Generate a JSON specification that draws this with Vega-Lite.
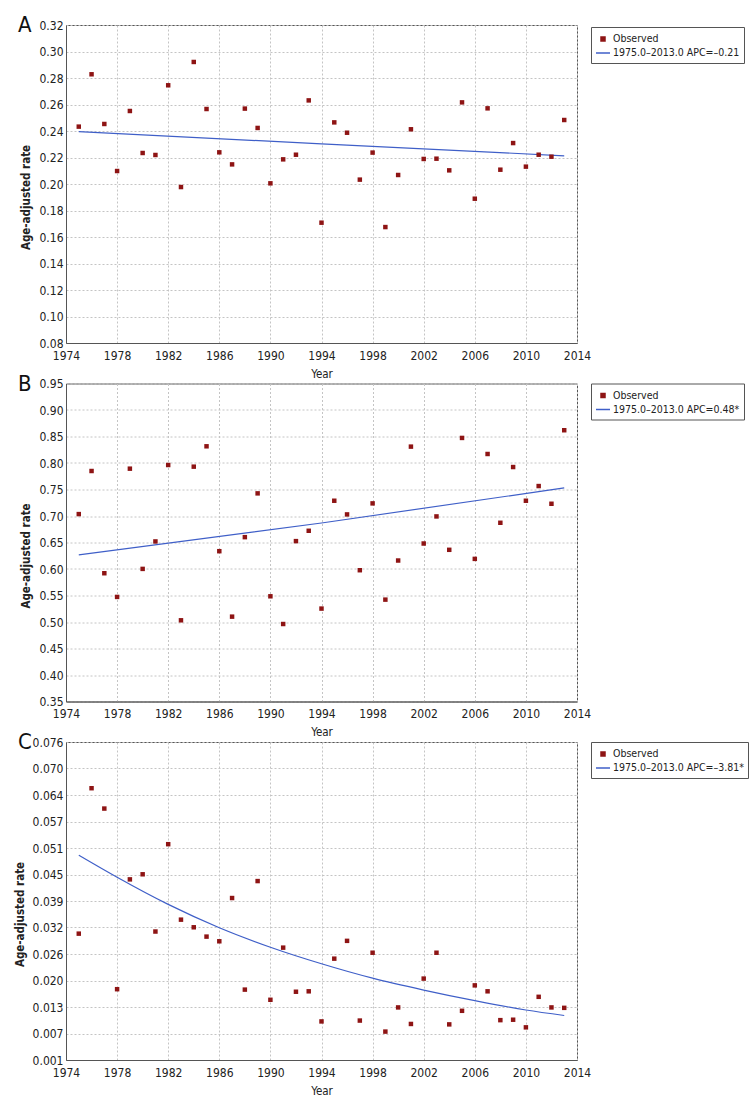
{
  "$schema": "https://vega.github.io/schema/vega-lite/v6.json",
  "background": "white",
  "padding": {"left": 13, "top": 13, "right": 5, "bottom": 5},
  "config": {
    "font": "DejaVu Sans Condensed, DejaVu Sans, sans-serif",
    "view": {"stroke": "#555", "strokeWidth": 1},
    "axis": {
      "labelFont": "DejaVu Sans Condensed, DejaVu Sans, sans-serif",
      "titleFont": "DejaVu Sans Condensed, DejaVu Sans, sans-serif",
      "labelFontSize": 12,
      "labelColor": "#222",
      "titleColor": "#222",
      "titleFontSize": 11.5,
      "titleFontWeight": "normal",
      "labelFlush": false,
      "labelOverlap": false,
      "ticks": false,
      "domainColor": "#555",
      "gridColor": "#c4c4c4",
      "gridDash": [2, 2],
      "gridWidth": 1
    },
    "legend": {
      "labelFont": "DejaVu Sans Condensed, DejaVu Sans, sans-serif",
      "labelFontSize": 10.5,
      "labelColor": "#222"
    },
    "title": {
      "font": "DejaVu Sans Condensed, DejaVu Sans, sans-serif",
      "fontSize": 22,
      "fontWeight": "normal",
      "color": "#111",
      "anchor": "start",
      "frame": "group",
      "offset": 0,
      "baseline": "alphabetic",
      "dx": -48,
      "dy": 22
    }
  },
  "datasets": {
    "A": [
      {"year": 1975, "rate": 0.2433, "series": "Observed"},
      {"year": 1976, "rate": 0.2828, "series": "Observed"},
      {"year": 1977, "rate": 0.2453, "series": "Observed"},
      {"year": 1978, "rate": 0.2098, "series": "Observed"},
      {"year": 1979, "rate": 0.2551, "series": "Observed"},
      {"year": 1980, "rate": 0.2234, "series": "Observed"},
      {"year": 1981, "rate": 0.2219, "series": "Observed"},
      {"year": 1982, "rate": 0.2745, "series": "Observed"},
      {"year": 1983, "rate": 0.1977, "series": "Observed"},
      {"year": 1984, "rate": 0.2921, "series": "Observed"},
      {"year": 1985, "rate": 0.2566, "series": "Observed"},
      {"year": 1986, "rate": 0.2239, "series": "Observed"},
      {"year": 1987, "rate": 0.2148, "series": "Observed"},
      {"year": 1988, "rate": 0.2569, "series": "Observed"},
      {"year": 1989, "rate": 0.2423, "series": "Observed"},
      {"year": 1990, "rate": 0.2005, "series": "Observed"},
      {"year": 1991, "rate": 0.2186, "series": "Observed"},
      {"year": 1992, "rate": 0.2221, "series": "Observed"},
      {"year": 1993, "rate": 0.2631, "series": "Observed"},
      {"year": 1994, "rate": 0.1708, "series": "Observed"},
      {"year": 1995, "rate": 0.2465, "series": "Observed"},
      {"year": 1996, "rate": 0.2387, "series": "Observed"},
      {"year": 1997, "rate": 0.2033, "series": "Observed"},
      {"year": 1998, "rate": 0.2237, "series": "Observed"},
      {"year": 1999, "rate": 0.1675, "series": "Observed"},
      {"year": 2000, "rate": 0.2068, "series": "Observed"},
      {"year": 2001, "rate": 0.2413, "series": "Observed"},
      {"year": 2002, "rate": 0.2189, "series": "Observed"},
      {"year": 2003, "rate": 0.2191, "series": "Observed"},
      {"year": 2004, "rate": 0.2103, "series": "Observed"},
      {"year": 2005, "rate": 0.2616, "series": "Observed"},
      {"year": 2006, "rate": 0.1889, "series": "Observed"},
      {"year": 2007, "rate": 0.2571, "series": "Observed"},
      {"year": 2008, "rate": 0.2108, "series": "Observed"},
      {"year": 2009, "rate": 0.2309, "series": "Observed"},
      {"year": 2010, "rate": 0.2131, "series": "Observed"},
      {"year": 2011, "rate": 0.2221, "series": "Observed"},
      {"year": 2012, "rate": 0.2206, "series": "Observed"},
      {"year": 2013, "rate": 0.2483, "series": "Observed"},
      {"year": 1975, "rate": 0.2395, "series": "1975.0–2013.0 APC=–0.21"},
      {"year": 1994, "rate": 0.2303, "series": "1975.0–2013.0 APC=–0.21"},
      {"year": 2013, "rate": 0.2213, "series": "1975.0–2013.0 APC=–0.21"}
    ],
    "B": [
      {"year": 1975, "rate": 0.7036, "series": "Observed"},
      {"year": 1976, "rate": 0.7849, "series": "Observed"},
      {"year": 1977, "rate": 0.592, "series": "Observed"},
      {"year": 1978, "rate": 0.5473, "series": "Observed"},
      {"year": 1979, "rate": 0.7893, "series": "Observed"},
      {"year": 1980, "rate": 0.6002, "series": "Observed"},
      {"year": 1981, "rate": 0.652, "series": "Observed"},
      {"year": 1982, "rate": 0.7962, "series": "Observed"},
      {"year": 1983, "rate": 0.5032, "series": "Observed"},
      {"year": 1984, "rate": 0.7931, "series": "Observed"},
      {"year": 1985, "rate": 0.8315, "series": "Observed"},
      {"year": 1986, "rate": 0.6336, "series": "Observed"},
      {"year": 1987, "rate": 0.5101, "series": "Observed"},
      {"year": 1988, "rate": 0.6601, "series": "Observed"},
      {"year": 1989, "rate": 0.7427, "series": "Observed"},
      {"year": 1990, "rate": 0.5485, "series": "Observed"},
      {"year": 1991, "rate": 0.4962, "series": "Observed"},
      {"year": 1992, "rate": 0.6526, "series": "Observed"},
      {"year": 1993, "rate": 0.6721, "series": "Observed"},
      {"year": 1994, "rate": 0.5253, "series": "Observed"},
      {"year": 1995, "rate": 0.7288, "series": "Observed"},
      {"year": 1996, "rate": 0.703, "series": "Observed"},
      {"year": 1997, "rate": 0.5977, "series": "Observed"},
      {"year": 1998, "rate": 0.7238, "series": "Observed"},
      {"year": 1999, "rate": 0.5422, "series": "Observed"},
      {"year": 2000, "rate": 0.616, "series": "Observed"},
      {"year": 2001, "rate": 0.8309, "series": "Observed"},
      {"year": 2002, "rate": 0.6481, "series": "Observed"},
      {"year": 2003, "rate": 0.6992, "series": "Observed"},
      {"year": 2004, "rate": 0.6362, "series": "Observed"},
      {"year": 2005, "rate": 0.8473, "series": "Observed"},
      {"year": 2006, "rate": 0.6191, "series": "Observed"},
      {"year": 2007, "rate": 0.817, "series": "Observed"},
      {"year": 2008, "rate": 0.6872, "series": "Observed"},
      {"year": 2009, "rate": 0.7924, "series": "Observed"},
      {"year": 2010, "rate": 0.7288, "series": "Observed"},
      {"year": 2011, "rate": 0.7565, "series": "Observed"},
      {"year": 2012, "rate": 0.7231, "series": "Observed"},
      {"year": 2013, "rate": 0.8618, "series": "Observed"},
      {"year": 1975, "rate": 0.6267, "series": "1975.0–2013.0 APC=0.48*"},
      {"year": 1994, "rate": 0.6868, "series": "1975.0–2013.0 APC=0.48*"},
      {"year": 2013, "rate": 0.7530, "series": "1975.0–2013.0 APC=0.48*"}
    ],
    "C": [
      {"year": 1975, "rate": 0.0308, "series": "Observed"},
      {"year": 1976, "rate": 0.0651, "series": "Observed"},
      {"year": 1977, "rate": 0.0603, "series": "Observed"},
      {"year": 1978, "rate": 0.0177, "series": "Observed"},
      {"year": 1979, "rate": 0.0436, "series": "Observed"},
      {"year": 1980, "rate": 0.0448, "series": "Observed"},
      {"year": 1981, "rate": 0.0313, "series": "Observed"},
      {"year": 1982, "rate": 0.0519, "series": "Observed"},
      {"year": 1983, "rate": 0.0341, "series": "Observed"},
      {"year": 1984, "rate": 0.0323, "series": "Observed"},
      {"year": 1985, "rate": 0.0301, "series": "Observed"},
      {"year": 1986, "rate": 0.029, "series": "Observed"},
      {"year": 1987, "rate": 0.0392, "series": "Observed"},
      {"year": 1988, "rate": 0.0176, "series": "Observed"},
      {"year": 1989, "rate": 0.0432, "series": "Observed"},
      {"year": 1990, "rate": 0.0152, "series": "Observed"},
      {"year": 1991, "rate": 0.0275, "series": "Observed"},
      {"year": 1992, "rate": 0.0171, "series": "Observed"},
      {"year": 1993, "rate": 0.0172, "series": "Observed"},
      {"year": 1994, "rate": 0.0101, "series": "Observed"},
      {"year": 1995, "rate": 0.0249, "series": "Observed"},
      {"year": 1996, "rate": 0.0291, "series": "Observed"},
      {"year": 1997, "rate": 0.0103, "series": "Observed"},
      {"year": 1998, "rate": 0.0263, "series": "Observed"},
      {"year": 1999, "rate": 0.0077, "series": "Observed"},
      {"year": 2000, "rate": 0.0134, "series": "Observed"},
      {"year": 2001, "rate": 0.0095, "series": "Observed"},
      {"year": 2002, "rate": 0.0202, "series": "Observed"},
      {"year": 2003, "rate": 0.0263, "series": "Observed"},
      {"year": 2004, "rate": 0.0094, "series": "Observed"},
      {"year": 2005, "rate": 0.0126, "series": "Observed"},
      {"year": 2006, "rate": 0.0186, "series": "Observed"},
      {"year": 2007, "rate": 0.0172, "series": "Observed"},
      {"year": 2008, "rate": 0.0104, "series": "Observed"},
      {"year": 2009, "rate": 0.0105, "series": "Observed"},
      {"year": 2010, "rate": 0.0087, "series": "Observed"},
      {"year": 2011, "rate": 0.0159, "series": "Observed"},
      {"year": 2012, "rate": 0.0134, "series": "Observed"},
      {"year": 2013, "rate": 0.0133, "series": "Observed"},
      {"year": 1975, "rate": 0.0493, "series": "1975.0–2013.0 APC=–3.81*"},
      {"year": 1978, "rate": 0.0441, "series": "1975.0–2013.0 APC=–3.81*"},
      {"year": 1982, "rate": 0.0377, "series": "1975.0–2013.0 APC=–3.81*"},
      {"year": 1986, "rate": 0.0322, "series": "1975.0–2013.0 APC=–3.81*"},
      {"year": 1990, "rate": 0.0276, "series": "1975.0–2013.0 APC=–3.81*"},
      {"year": 1994, "rate": 0.0237, "series": "1975.0–2013.0 APC=–3.81*"},
      {"year": 1998, "rate": 0.0203, "series": "1975.0–2013.0 APC=–3.81*"},
      {"year": 2002, "rate": 0.0175, "series": "1975.0–2013.0 APC=–3.81*"},
      {"year": 2006, "rate": 0.0150, "series": "1975.0–2013.0 APC=–3.81*"},
      {"year": 2010, "rate": 0.0128, "series": "1975.0–2013.0 APC=–3.81*"},
      {"year": 2013, "rate": 0.0115, "series": "1975.0–2013.0 APC=–3.81*"}
    ]
  },
  "bounds": "flush",
  "spacing": 40.5,
  "resolve": {
    "scale": {"x": "independent", "y": "independent", "color": "independent"},
    "legend": {"color": "independent"},
    "axis": {"x": "independent", "y": "independent"}
  },
  "vconcat": [
    {
      "width": 511,
      "height": 318,
      "title": {"text": "A"},
      "data": {"name": "A"},
      "encoding": {
        "x": {"field": "year", "type": "quantitative", "scale": {"domain": [1974, 2014], "nice": false, "zero": false},
          "axis": {"title": "Year", "values": [1974, 1978, 1982, 1986, 1990, 1994, 1998, 2002, 2006, 2010, 2014], "format": "d", "labelPadding": 7, "titlePadding": 7}},
        "y": {"field": "rate", "type": "quantitative", "scale": {"domain": [0.08, 0.32], "nice": false, "zero": false},
          "axis": {"title": "Age-adjusted rate", "titleFontWeight": "bold", "values": [0.08, 0.1, 0.12, 0.14, 0.16, 0.18, 0.2, 0.22, 0.24, 0.26, 0.28, 0.3, 0.32], "format": ".2f", "labelPadding": 3, "titlePadding": 7, "titleY": 172}},
        "color": {"field": "series", "type": "nominal",
          "scale": {"domain": ["Observed", "1975.0–2013.0 APC=–0.21"], "range": ["#8e1414", "#3f5fc8"]},
          "legend": {"title": null, "orient": "none", "legendX": 525, "legendY": 2, "padding": 4, "strokeColor": "#555", "fillColor": "white", "symbolSize": 196, "labelOffset": 2, "rowPadding": 0,
            "encode": {"symbols": {"update": {
              "shape": {"signal": "datum.value === 'Observed' ? 'square' : 'stroke'"},
              "size": {"signal": "datum.value === 'Observed' ? 16 : 196"},
              "fill": {"signal": "datum.value === 'Observed' ? '#8e1414' : 'transparent'"},
              "stroke": {"signal": "datum.value === 'Observed' ? 'transparent' : '#3f5fc8'"},
              "strokeWidth": {"value": 1.5}}}}}}
      },
      "layer": [
        {"transform": [{"filter": "datum.series !== 'Observed'"}], "mark": {"type": "line", "strokeWidth": 1.2}},
        {"transform": [{"filter": "datum.series === 'Observed'"}], "mark": {"type": "square", "size": 20, "opacity": 1}}
      ]
    },
    {
      "width": 511,
      "height": 318,
      "title": {"text": "B"},
      "data": {"name": "B"},
      "encoding": {
        "x": {"field": "year", "type": "quantitative", "scale": {"domain": [1974, 2014], "nice": false, "zero": false},
          "axis": {"title": "Year", "values": [1974, 1978, 1982, 1986, 1990, 1994, 1998, 2002, 2006, 2010, 2014], "format": "d", "labelPadding": 7, "titlePadding": 7}},
        "y": {"field": "rate", "type": "quantitative", "scale": {"domain": [0.35, 0.95], "nice": false, "zero": false},
          "axis": {"title": "Age-adjusted rate", "titleFontWeight": "bold", "values": [0.35, 0.4, 0.45, 0.5, 0.55, 0.6, 0.65, 0.7, 0.75, 0.8, 0.85, 0.9, 0.95], "format": ".2f", "labelPadding": 3, "titlePadding": 7, "titleY": 172}},
        "color": {"field": "series", "type": "nominal",
          "scale": {"domain": ["Observed", "1975.0–2013.0 APC=0.48*"], "range": ["#8e1414", "#3f5fc8"]},
          "legend": {"title": null, "orient": "none", "legendX": 525, "legendY": 0, "padding": 4, "strokeColor": "#555", "fillColor": "white", "symbolSize": 196, "labelOffset": 2, "rowPadding": 0,
            "encode": {"symbols": {"update": {
              "shape": {"signal": "datum.value === 'Observed' ? 'square' : 'stroke'"},
              "size": {"signal": "datum.value === 'Observed' ? 16 : 196"},
              "fill": {"signal": "datum.value === 'Observed' ? '#8e1414' : 'transparent'"},
              "stroke": {"signal": "datum.value === 'Observed' ? 'transparent' : '#3f5fc8'"},
              "strokeWidth": {"value": 1.5}}}}}}
      },
      "layer": [
        {"transform": [{"filter": "datum.series !== 'Observed'"}], "mark": {"type": "line", "strokeWidth": 1.2}},
        {"transform": [{"filter": "datum.series === 'Observed'"}], "mark": {"type": "square", "size": 20, "opacity": 1}}
      ]
    },
    {
      "width": 511,
      "height": 318,
      "title": {"text": "C"},
      "data": {"name": "C"},
      "encoding": {
        "x": {"field": "year", "type": "quantitative", "scale": {"domain": [1974, 2014], "nice": false, "zero": false},
          "axis": {"title": "Year", "values": [1974, 1978, 1982, 1986, 1990, 1994, 1998, 2002, 2006, 2010, 2014], "format": "d", "labelPadding": 7, "titlePadding": 7}},
        "y": {"field": "rate", "type": "quantitative", "scale": {"domain": [0.001, 0.076], "nice": false, "zero": false},
          "axis": {"title": "Age-adjusted rate", "titleFontWeight": "bold",
            "values": [0.001, 0.00725, 0.0135, 0.01975, 0.026, 0.03225, 0.0385, 0.04475, 0.051, 0.05725, 0.0635, 0.06975, 0.076],
            "labelExpr": "['0.001','0.007','0.013','0.020','0.026','0.032','0.039','0.045','0.051','0.057','0.064','0.070','0.076'][round((datum.value - 0.001) / 0.00625)]",
            "labelPadding": 3, "titlePadding": 7, "titleY": 172}},
        "color": {"field": "series", "type": "nominal",
          "scale": {"domain": ["Observed", "1975.0–2013.0 APC=–3.81*"], "range": ["#8e1414", "#3f5fc8"]},
          "legend": {"title": null, "orient": "none", "legendX": 525, "legendY": 0, "padding": 4, "strokeColor": "#555", "fillColor": "white", "symbolSize": 196, "labelOffset": 2, "rowPadding": 0,
            "encode": {"symbols": {"update": {
              "shape": {"signal": "datum.value === 'Observed' ? 'square' : 'stroke'"},
              "size": {"signal": "datum.value === 'Observed' ? 16 : 196"},
              "fill": {"signal": "datum.value === 'Observed' ? '#8e1414' : 'transparent'"},
              "stroke": {"signal": "datum.value === 'Observed' ? 'transparent' : '#3f5fc8'"},
              "strokeWidth": {"value": 1.5}}}}}}
      },
      "layer": [
        {"transform": [{"filter": "datum.series !== 'Observed'"}], "mark": {"type": "line", "strokeWidth": 1.2, "interpolate": "monotone"}},
        {"transform": [{"filter": "datum.series === 'Observed'"}], "mark": {"type": "square", "size": 20, "opacity": 1}}
      ]
    }
  ]
}
